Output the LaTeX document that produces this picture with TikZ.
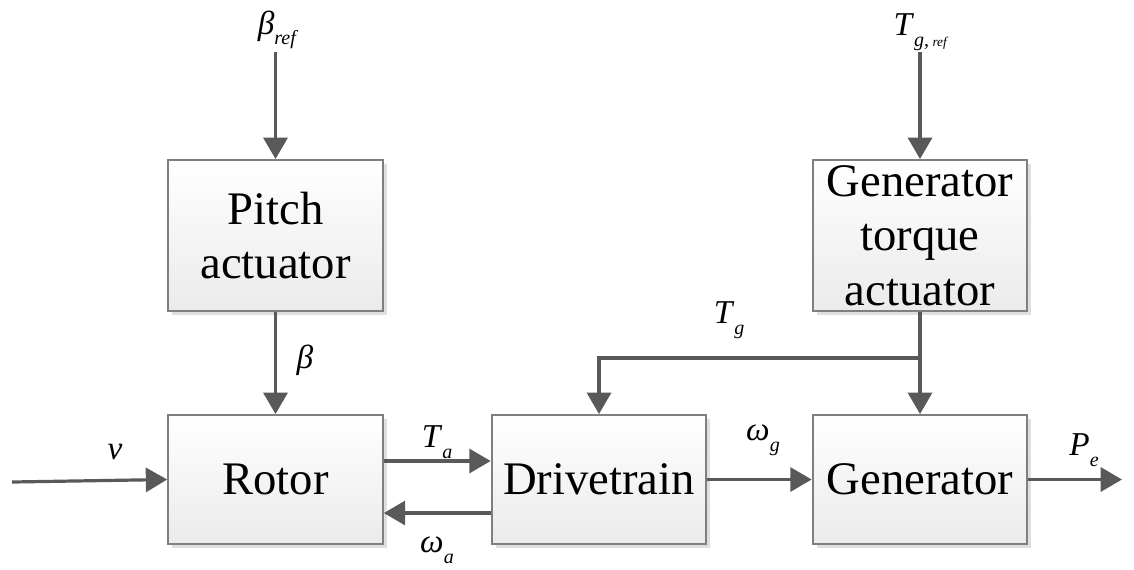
\documentclass[tikz,border=0pt]{standalone}
\usepackage{fontspec}
\setmainfont{Liberation Serif}
\usetikzlibrary{arrows.meta,shadows}

\definecolor{linegray}{HTML}{595959}
\definecolor{boxgray}{HTML}{7F7F7F}
\newcommand{\subfont}{\fontsize{15}{15}\selectfont}
\newcommand{\sig}[2]{\textit{#1}\raisebox{-8pt}{\subfont\textit{#2}}}

\tikzset{
  block/.style={draw=boxgray,line width=1.5pt,top color=white,bottom color=gray!16,
    minimum width=161pt,minimum height=96.75pt,align=center,
    font=\fontsize{35}{41}\selectfont,
    drop shadow={opacity=0.25,shadow xshift=3pt,shadow yshift=-3pt}},
  tall/.style={minimum height=113.25pt},
  sig/.style={draw=linegray,line width=2.4pt,-{Triangle[length=16pt,width=18pt]}},
  lbl/.style={font=\fontsize{25}{28}\selectfont,inner sep=0pt}
}

\begin{document}
\begin{tikzpicture}[x=0.75pt,y=-0.75pt]
  \useasboundingbox (0,0) rectangle (1134,569);

  % blocks
  \node[block,tall] (pitch) at (275.5,235.5) {Pitch\\actuator};
  \node[block,tall] (gtq) at (920,235.5) {Generator\\torque\\actuator};
  \node[block] (rotor) at (275.5,479.5) {Rotor};
  \node[block] (drive) at (599,479.5) {Drivetrain};
  \node[block] (gen) at (920,479.5) {Generator};

  % free ends
  \coordinate (bref) at (275.5,52);
  \coordinate (tref) at (920,52);
  \coordinate (vin) at (12,482);
  \coordinate (pout) at (1122,479.5);
  \coordinate (split) at (920,358);

  \draw[sig] (bref) -- (pitch.north);
  \draw[sig] (tref) -- (gtq.north);
  \draw[sig] (pitch.south) -- (rotor.north);
  \draw[sig] (gtq.south) -- (gen.north);
  \draw[sig] (split) -| (drive.north);
  \draw[sig] (vin) -- (rotor.west);
  \draw[sig] (rotor.east|-0,461) -- (drive.west|-0,461);
  \draw[sig] (drive.west|-0,513) -- (rotor.east|-0,513);
  \draw[sig] (drive.east) -- (gen.west);
  \draw[sig] (gen.east) -- (pout);

  % signal names
  \node[lbl] (lbref) at (278,30) {\sig{β}{ref}};
  \node[lbl] (ltref) at (921,32) {\textit{T}\raisebox{-8pt}{\subfont\textit{g},\,{\fontsize{10}{10}\selectfont\textit{ref}}}};
  \node[lbl] (lbeta) at (305,360) {\textit{β}};
  \node[lbl] (ltg) at (729,320) {\sig{T}{g}};
  \node[lbl] (lv) at (115,452) {\textit{v}};
  \node[lbl] (lta) at (437,442) {\sig{T}{a}};
  \node[lbl] (lwa) at (437,550) {\sig{ω}{a}};
  \node[lbl] (lwg) at (763,440) {\sig{ω}{g}};
  \node[lbl] (lpe) at (1084,450) {\sig{P}{e}};
\end{tikzpicture}
\end{document}
